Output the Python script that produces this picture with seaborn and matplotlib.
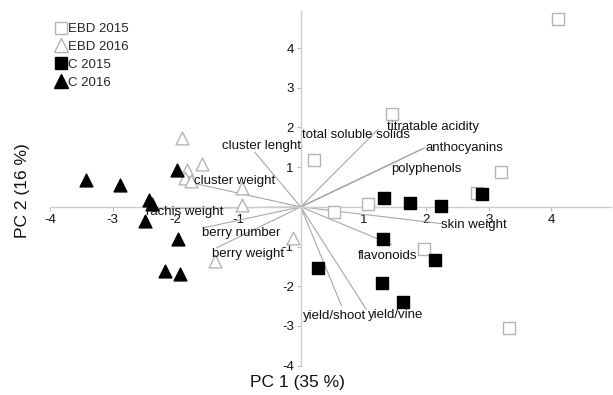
import matplotlib
matplotlib.use("Agg")
import matplotlib.pyplot as plt
import seaborn as sns
import pandas as pd
from matplotlib.lines import Line2D

sns.set_theme(style="white")
plt.rcParams['font.family'] = ['Liberation Sans', 'DejaVu Sans']

# ---- data: PCA scores ----
ebd2015_x = [4.10, 1.45, 0.21, 3.19, 2.82, 1.08, 0.53, 1.96, 3.33]
ebd2015_y = [4.74, 2.33, 1.19, 0.89, 0.34, 0.08, -0.12, -1.05, -3.04]

ebd2016_x = [-1.90, -1.57, -1.81, -1.85, -1.75, -0.93, -0.93, -0.13, -1.36]
ebd2016_y = [1.74, 1.07, 0.94, 0.73, 0.64, 0.48, 0.06, -0.78, -1.37]

c2015_x = [1.33, 1.74, 2.23, 2.89, 1.31, 2.15, 0.28, 1.30, 1.63]
c2015_y = [0.23, 0.10, 0.02, 0.32, -0.81, -1.33, -1.54, -1.91, -2.39]

c2016_x = [-3.42, -2.89, -1.98, -2.42, -2.38, -2.49, -1.95, -2.17, -1.92]
c2016_y = [0.69, 0.56, 0.92, 0.18, 0.08, -0.36, -0.82, -1.62, -1.69]

groups = ["EBD 2015", "EBD 2016", "C 2015", "C 2016"]

# ---- data: loadings ----
var_names = ["cluster lenght", "total soluble solids", "titratable acidity",
             "anthocyanins", "polyphenols", "skin weight", "flavonoids",
             "yield/shoot", "yield/vine", "cluster weight", "rachis weight",
             "berry number", "berry weight"]
load_x = [-0.73, 1.23, 1.95, 1.98, 1.60, 2.24, 1.45, 0.65, 1.05, -1.72, -2.44, -1.56, -1.34]
load_y = [1.37, 1.95, 1.47, 1.49, 1.20, -0.42, -0.95, -2.49, -2.59, 0.60, -0.05, -0.53, -1.03]

# label anchor positions (layout)
lab_x = [0.0, 0.02, 1.37, 1.99, 1.45, 2.24, 0.91, 0.04, 1.07, -1.70, -2.47, -1.58, -1.42]
lab_y = [1.54, 1.82, 2.0, 1.48, 0.96, -0.46, -1.23, -2.76, -2.73, 0.64, -0.14, -0.67, -1.19]
lab_ha = ["right"] + ["left"] * 12

xticks = [-4, -3, -2, -1, 1, 2, 3, 4]
yticks = [-4, -3, -2, -1, 1, 2, 3, 4]

df = pd.concat([
    pd.DataFrame({"PC1": ebd2015_x, "PC2": ebd2015_y, "group": groups[0]}),
    pd.DataFrame({"PC1": ebd2016_x, "PC2": ebd2016_y, "group": groups[1]}),
    pd.DataFrame({"PC1": c2015_x, "PC2": c2015_y, "group": groups[2]}),
    pd.DataFrame({"PC1": c2016_x, "PC2": c2016_y, "group": groups[3]}),
], ignore_index=True)

fig = plt.figure(figsize=(6.13, 3.95), dpi=100)
ax = fig.add_axes([50 / 613, 0.0742, 561 / 613, 0.8975])

gray_edge = "#b4b4b4"
styles = {
    "EBD 2015": dict(marker="s", facecolor="white", edgecolor=gray_edge, s=70),
    "EBD 2016": dict(marker="^", facecolor="white", edgecolor=gray_edge, s=85),
    "C 2015": dict(marker="s", facecolor="black", edgecolor="black", s=70),
    "C 2016": dict(marker="^", facecolor="black", edgecolor="black", s=85),
}

# loadings lines
for lx, ly in zip(load_x, load_y):
    ax.plot([0, lx], [0, ly], color="#a8a8a8", lw=0.8, zorder=1)

for g in groups:
    st = styles[g]
    sns.scatterplot(data=df[df.group == g], x="PC1", y="PC2", ax=ax,
                    marker=st["marker"], s=st["s"], facecolor=st["facecolor"],
                    edgecolor=st["edgecolor"], linewidth=1.0, zorder=3, legend=False)

for name, tx, ty, ha in zip(var_names, lab_x, lab_y, lab_ha):
    ax.text(tx, ty, name, ha=ha, va="center", fontsize=9.5, color="#111111", zorder=4)

ax.set_xlim(-4, 4.95)
ax.set_ylim(-4, 4.93)
for side in ["top", "right"]:
    ax.spines[side].set_visible(False)
ax.spines["left"].set_position(("data", 0))
ax.spines["bottom"].set_position(("data", 0))
for side in ["left", "bottom"]:
    ax.spines[side].set_color("#cccccc")
    ax.spines[side].set_linewidth(1.0)

ax.set_xticks(xticks)
ax.set_yticks(yticks)
ax.set_xticklabels([str(t) for t in xticks])
ax.set_yticklabels([str(t) for t in yticks])
ax.tick_params(axis="both", direction="out", length=3, width=0.8, color="#bbbbbb",
               labelsize=9.5, labelcolor="#111111", pad=2)
ax.tick_params(axis="x", bottom=True)
ax.tick_params(axis="y", left=True)

ax.set_xlabel("PC 1 (35 %)", fontsize=12.5, color="#111111")
ax.set_ylabel("PC 2 (16 %)", fontsize=12.5, color="#111111")
ax.xaxis.set_label_coords(0.441, -0.025)
ax.yaxis.set_label_coords(-0.035, 0.493)

handles = [
    Line2D([], [], ls="none", marker="s", markersize=8.5, markerfacecolor="white",
           markeredgecolor=gray_edge, markeredgewidth=1.0),
    Line2D([], [], ls="none", marker="^", markersize=9.5, markerfacecolor="white",
           markeredgecolor=gray_edge, markeredgewidth=1.0),
    Line2D([], [], ls="none", marker="s", markersize=8.5, markerfacecolor="black",
           markeredgecolor="black"),
    Line2D([], [], ls="none", marker="^", markersize=9.5, markerfacecolor="black",
           markeredgecolor="black"),
]
fig.legend(handles, groups, loc="upper left", bbox_to_anchor=(56 / 613, 1 - 23 / 395),
           frameon=False, fontsize=9.5, handlelength=0.8, handletextpad=0.1,
           labelspacing=0.42, borderpad=0, borderaxespad=0)

fig.savefig("out.png", dpi=100)
